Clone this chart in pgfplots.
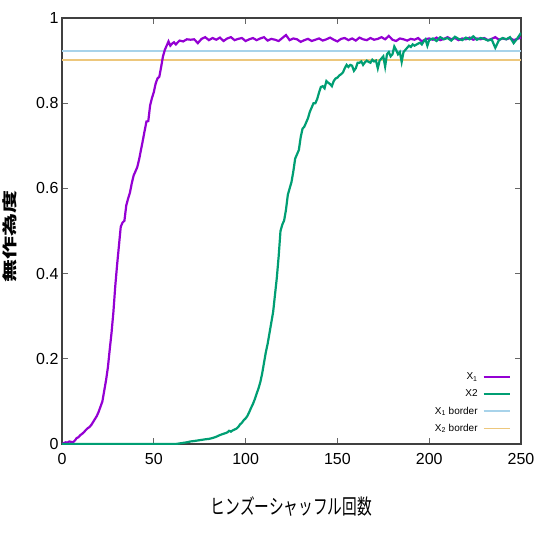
\documentclass[border=0pt]{standalone}
\usepackage{fontspec}
\setmainfont{Liberation Sans}
\newfontfamily\jp{Noto Sans CJK JP}
\usepackage{graphicx}
\usepackage{pgfplots}
\pgfplotsset{compat=1.18}
\definecolor{cpurple}{HTML}{9400D3}
\definecolor{cgreen}{HTML}{009E73}
\definecolor{cblue}{HTML}{A8D3EA}
\definecolor{corange}{HTML}{EDC77C}
\begin{document}
\begin{tikzpicture}
\path[use as bounding box] (-62pt,-92pt) rectangle (474pt,444pt);
\begin{axis}[
  at={(0,0)}, anchor=south west,
  scale only axis, width=459pt, height=426pt,
  xmin=0, xmax=250, ymin=0, ymax=1,
  xtick={0,50,100,150,200,250},
  ytick={0,0.2,0.4,0.6,0.8,1},
  tick align=inside, major tick length=6pt,
  axis line style={draw=black!75, line width=1.2pt},
  tick style={draw=black!60, line width=0.7pt},
  /pgf/number format/assume math mode=true,
  tick label style={font=\fontsize{16}{16}\selectfont},
  xticklabel style={yshift=-6pt},
  xlabel={\scalebox{0.7}[1]{\jp\fontsize{21}{21}\selectfont ヒンズーシャッフル回数}},
  xlabel style={at={(axis description cs:0.5,0)}, anchor=center, yshift=-63pt},
  ylabel={\scalebox{1}[0.65]{\jp\bfseries\fontsize{23}{23}\selectfont 無作為度}},
  ylabel style={at={(axis description cs:-0.1133,0.488)}, anchor=center},
  legend plot pos=right,
  legend cell align=right,
  legend image code/.code={\draw[#1] (0pt,0pt) -- (26pt,0pt);},
  legend style={draw=none, fill=none, at={(1,0)}, anchor=south east,
    xshift=-10pt, yshift=9pt, inner sep=0pt, row sep=4.5pt,
    font=\fontsize{10}{10}\selectfont, column sep=3pt},
]
\addplot[cblue, line width=1.7pt, forget plot] coordinates {(0,0.922) (250,0.922)};
\addplot[corange, line width=1.7pt, forget plot] coordinates {(0,0.901) (250,0.901)};
\addplot[cpurple, line width=2.2pt] coordinates {
(0,0.0) (1,0.002) (2,0.004) (3,0.003) (4,0.006) (5,0.005) (6,0.004) (7,0.008) (8,0.014)
(9,0.016) (10,0.021) (11,0.024) (12,0.028) (13,0.033) (14,0.037) (15,0.040) (16,0.045)
(17,0.052) (18,0.059) (19,0.066) (20,0.076) (21,0.088) (22,0.100) (23,0.125) (24,0.150)
(25,0.180) (26,0.222) (27,0.262) (28,0.310) (29,0.370) (30,0.420) (31,0.465) (32,0.510)
(33,0.520) (34,0.524) (35,0.560) (36,0.576) (37,0.590) (38,0.612) (39,0.630) (40,0.640)
(41,0.650) (42,0.668) (43,0.690) (44,0.712) (45,0.735) (46,0.757) (47,0.758) (48,0.795)
(49,0.812) (50,0.826) (51,0.846) (52,0.858) (53,0.862) (54,0.885) (55,0.910) (56,0.925)
(57,0.935) (58,0.945) (59,0.935) (60,0.940) (61,0.943) (62,0.938) (64,0.947) (66,0.945)
(68,0.950) (70,0.949) (72,0.950) (74,0.941) (76,0.951) (78,0.955) (80,0.948) (82,0.953)
(84,0.949) (86,0.954) (88,0.946) (90,0.952) (92,0.955) (94,0.948) (96,0.951) (98,0.953)
(100,0.946) (102,0.950) (104,0.953) (106,0.948) (108,0.952) (110,0.955) (112,0.947)
(114,0.951) (116,0.949) (118,0.946) (120,0.953) (122,0.960) (124,0.948) (126,0.952)
(128,0.950) (130,0.944) (132,0.948) (134,0.951) (136,0.946) (138,0.949) (140,0.952)
(142,0.947) (144,0.950) (146,0.954) (148,0.949) (150,0.945) (152,0.951) (154,0.953)
(156,0.948) (158,0.952) (160,0.947) (162,0.954) (164,0.950) (166,0.948) (168,0.953)
(170,0.949) (172,0.951) (174,0.955) (176,0.950) (178,0.958) (180,0.949) (182,0.946)
(184,0.952) (186,0.950) (188,0.947) (190,0.951) (192,0.949) (194,0.953) (196,0.945)
(198,0.950) (200,0.952) (202,0.949) (204,0.954) (206,0.948) (208,0.951) (210,0.955)
(212,0.950) (214,0.953) (216,0.948) (218,0.952) (220,0.950) (222,0.954) (224,0.949)
(226,0.952) (228,0.950) (230,0.953) (232,0.948) (234,0.951) (236,0.955) (238,0.949)
(240,0.952) (242,0.950) (244,0.953) (246,0.948) (248,0.951) (250,0.954)
};
\addplot[cgreen, line width=2.2pt] coordinates {
(0,0) (62,0) (65,0.002) (68,0.004) (70,0.006) (72,0.007) (75,0.009) (78,0.011) (80,0.012)
(82,0.014) (84,0.017) (86,0.021) (88,0.024) (90,0.027) (91,0.031) (92,0.029) (93,0.032)
(94,0.034) (95,0.036) (96,0.040) (97,0.046) (98,0.050) (99,0.056) (100,0.060) (101,0.066)
(102,0.075) (103,0.085) (104,0.094) (105,0.105) (106,0.118) (107,0.130) (108,0.145)
(109,0.165) (110,0.190) (111,0.215) (112,0.235) (113,0.260) (114,0.285) (115,0.310)
(116,0.350) (117,0.390) (118,0.440) (119,0.500) (120,0.515) (121,0.525) (122,0.550)
(123,0.585) (124,0.600) (125,0.615) (126,0.640) (127,0.670) (128,0.680) (129,0.690)
(130,0.720) (131,0.740) (132,0.745) (133,0.755) (134,0.765) (135,0.780) (136,0.790)
(137,0.800) (138,0.800) (139,0.810) (140,0.825) (141,0.838) (142,0.840) (143,0.835)
(144,0.852) (145,0.848) (146,0.845) (147,0.840) (148,0.852) (149,0.858) (150,0.860)
(151,0.865) (152,0.868) (153,0.872) (154,0.882) (155,0.890) (156,0.885) (157,0.890)
(158,0.888) (159,0.876) (160,0.882) (161,0.895) (162,0.895) (163,0.898) (164,0.890)
(165,0.896) (166,0.900) (167,0.897) (168,0.895) (169,0.902) (170,0.898) (171,0.900)
(172,0.882) (173,0.900) (174,0.905) (175,0.910) (176,0.886) (177,0.915) (178,0.920)
(179,0.910) (180,0.915) (181,0.933) (182,0.925) (183,0.915) (184,0.920) (185,0.897)
(186,0.920) (187,0.925) (188,0.930) (189,0.935) (190,0.932) (191,0.938) (192,0.935)
(194,0.940) (195,0.942) (196,0.938) (197,0.945) (198,0.950) (199,0.935) (200,0.948)
(202,0.952) (204,0.946) (206,0.955) (208,0.950) (210,0.953) (212,0.947) (214,0.956)
(216,0.951) (218,0.948) (220,0.954) (222,0.950) (224,0.957) (226,0.949) (228,0.953)
(230,0.951) (232,0.947) (234,0.950) (236,0.930) (238,0.948) (240,0.953) (242,0.950)
(244,0.955) (246,0.941) (248,0.952) (250,0.965)
};
\addlegendimage{cblue, line width=1.7pt}
\addlegendimage{corange, line width=1.7pt}
\legend{X\textsubscript{1}, X2, X\textsubscript{1} border, X\textsubscript{2} border}
\end{axis}
\end{tikzpicture}
\end{document}
